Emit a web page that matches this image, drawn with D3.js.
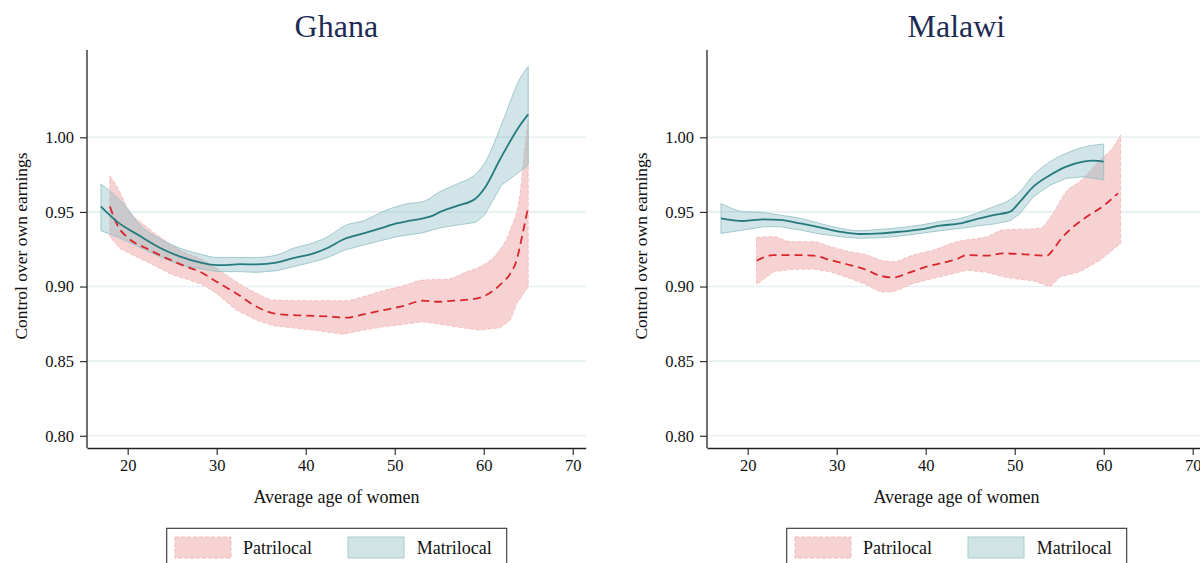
<!DOCTYPE html>
<html>
<head>
<meta charset="utf-8">
<script src="https://cdn.jsdelivr.net/npm/d3@7"></script>
<style>
  html, body { margin: 0; padding: 0; background: #fff; }
  svg { display: block; }
  text { font-family: "Liberation Serif", "DejaVu Serif", serif; }
</style>
</head>
<body>
<svg id="chart" width="1200" height="563"></svg>
<script>
// ---------------- DATA ----------------
const panels = ["Ghana", "Malawi"];
const yTicks = [0.80, 0.85, 0.90, 0.95, 1.00];
const xTicks = [20, 30, 40, 50, 60, 70];
const legendLabels = ["Patrilocal", "Matrilocal"];

// Ghana – Matrilocal: [age, estimate]
const ghanaMatriLine = [[17,0.9535],[18.8,0.9435],[21.2,0.9345],[23.6,0.926],[25.9,0.920],[28.1,0.9162],[30,0.9144],[31.1,0.9144],[32.6,0.915],[34.5,0.9148],[36.7,0.916],[38.6,0.919],[40.9,0.9222],[42.5,0.926],[44.4,0.932],[46.5,0.9356],[48.4,0.939],[50.2,0.9423],[51.7,0.9441],[53.2,0.9457],[54.2,0.9473],[55.1,0.950],[57,0.954],[59.1,0.959],[60.1,0.9658],[61.8,0.9848],[64.1,1.0083],[65,1.0154]];
const ghanaMatriUpper = [[17,0.9687],[19.8,0.9535],[21.2,0.9423],[23.6,0.932],[25.9,0.9256],[28.1,0.9218],[30,0.9195],[32.6,0.9195],[34.5,0.9195],[36.7,0.921],[38.6,0.9256],[40.9,0.9294],[42.5,0.9334],[44.4,0.9408],[46.5,0.9441],[49.1,0.9513],[51.3,0.9553],[53.2,0.9569],[55.1,0.9636],[57,0.9687],[59.1,0.9754],[60.1,0.9826],[62.2,1.0116],[64.1,1.0396],[65,1.0474]];
const ghanaMatriLower = [[17,0.9374],[18.8,0.9334],[21.2,0.9267],[23.6,0.92],[25.9,0.9144],[30,0.91],[32.6,0.91],[34.5,0.9095],[36.7,0.9106],[38.6,0.9133],[40.9,0.9166],[42.5,0.9195],[44.4,0.9245],[46.5,0.9278],[48.4,0.9307],[50.2,0.9334],[53.2,0.9361],[55.1,0.9394],[57,0.9412],[59.1,0.943],[60.1,0.9479],[62,0.968],[63.3,0.9736],[65,0.9814]];

// Ghana – Patrilocal
const ghanaPatriLine = [[18,0.9535],[18.95,0.940],[20.1,0.9323],[22.1,0.9256],[24.4,0.9189],[26.6,0.9133],[28.1,0.91],[30,0.9032],[32.2,0.8954],[34.5,0.8865],[36.4,0.882],[38.2,0.8809],[40.9,0.8804],[43.1,0.8797],[44.4,0.8791],[46.5,0.8813],[48.7,0.8842],[50.9,0.8869],[53.2,0.8905],[54.7,0.8898],[56.6,0.8905],[58.8,0.8916],[60.3,0.8943],[61.8,0.901],[63,0.9088],[63.7,0.9177],[64.3,0.9334],[65,0.9535]];
const ghanaPatriUpper = [[18,0.9741],[18.8,0.9669],[20.1,0.9513],[22.1,0.9401],[24.4,0.93],[26.6,0.9222],[28.1,0.9189],[30,0.9122],[32.2,0.9032],[34.5,0.8954],[36.4,0.8909],[40.9,0.8905],[44.4,0.8905],[46.5,0.8932],[48.7,0.8972],[50.9,0.9003],[53.2,0.9043],[55.8,0.9048],[58.1,0.9099],[59.6,0.9133],[61.5,0.9222],[63,0.9379],[64.1,0.9624],[64.6,0.9915],[65,1.0116]];
const ghanaPatriLower = [[18,0.9334],[19.1,0.9256],[20.6,0.9211],[22.9,0.9144],[25.1,0.9077],[27,0.9043],[28.5,0.901],[30,0.8954],[32.2,0.8842],[34.5,0.8775],[36.4,0.8737],[40.9,0.8708],[44.2,0.8681],[46.5,0.8708],[48.7,0.873],[53.2,0.8764],[55.8,0.8742],[58.1,0.8719],[59.6,0.8708],[61.8,0.8724],[63,0.8775],[63.7,0.8887],[64.5,0.8954],[65,0.8999]];

// Malawi – Matrilocal
const malawiMatriLine = [[17,0.9457],[19.5,0.9439],[21.8,0.945],[23.6,0.9446],[25.9,0.9423],[28.1,0.9397],[30.4,0.9367],[32.6,0.9352],[34.9,0.9356],[37.1,0.9367],[39.4,0.9383],[41.6,0.9408],[43.9,0.9423],[45.7,0.9452],[47.6,0.9479],[49.5,0.9502],[50.6,0.9569],[52.1,0.9669],[54,0.9747],[55.8,0.9803],[57.7,0.9837],[58.8,0.9844],[60,0.9837]];
const malawiMatriUpper = [[17,0.9557],[19.5,0.9502],[21.8,0.9495],[23.6,0.9479],[25.9,0.9457],[28.1,0.9423],[30.4,0.939],[32.6,0.9374],[34.9,0.9383],[37.1,0.9394],[39.4,0.9412],[41.6,0.9435],[43.9,0.9457],[45.7,0.949],[47.6,0.9535],[49.1,0.9569],[50.6,0.9636],[52.1,0.9747],[54,0.9837],[55.8,0.9893],[57.7,0.9933],[60,0.9955]];
const malawiMatriLower = [[17,0.9356],[19.5,0.9379],[21.8,0.9401],[23.6,0.9401],[25.9,0.9379],[28.1,0.9352],[30.4,0.9334],[32.6,0.9323],[34.9,0.9327],[37.1,0.9338],[39.4,0.9356],[41.6,0.9374],[43.9,0.939],[45.7,0.9405],[47.6,0.9419],[49.5,0.9441],[50.6,0.949],[52.1,0.9602],[54,0.968],[55.8,0.9725],[57.7,0.9736],[60,0.9714]];

// Malawi – Patrilocal
const malawiPatriLine = [[21,0.9173],[22.9,0.9211],[24.8,0.9211],[27.4,0.9207],[29.3,0.9177],[31.5,0.9144],[33.4,0.911],[34.9,0.9072],[36.4,0.9061],[37.9,0.9088],[40.1,0.9133],[42,0.916],[43.5,0.9184],[44.6,0.9211],[46.9,0.9207],[48.7,0.9222],[50.6,0.9218],[53.6,0.9207],[54.3,0.9245],[55.1,0.9312],[56.6,0.9401],[58.1,0.9468],[60,0.9542],[61.6,0.9624]];
const malawiPatriUpper = [[21,0.9329],[22.9,0.9334],[24.8,0.93],[27.4,0.93],[29.3,0.9267],[31.5,0.9233],[33.4,0.9211],[34.9,0.9177],[36.4,0.9166],[38.6,0.9211],[40.9,0.9245],[43.5,0.93],[44.6,0.9312],[46.9,0.9334],[48.7,0.9379],[50.6,0.9383],[52.8,0.939],[54.3,0.949],[55.8,0.9636],[57.3,0.9703],[59.6,0.9848],[61.1,0.9937],[61.9,1.0016]];
const malawiPatriLower = [[21,0.9014],[22.9,0.9099],[24.8,0.9115],[27.4,0.9117],[29.3,0.9099],[31.5,0.9055],[33.4,0.901],[34.9,0.8965],[36.4,0.8965],[38.6,0.9021],[40.9,0.9055],[43.5,0.9093],[44.6,0.911],[46.9,0.9095],[48.7,0.9066],[50.6,0.9048],[52.1,0.9039],[54,0.8999],[55.1,0.9066],[57.3,0.9099],[59.6,0.9177],[61.9,0.9289]];

const panelData = [
  { patri: { line: ghanaPatriLine, upper: ghanaPatriUpper, lower: ghanaPatriLower },
    matri: { line: ghanaMatriLine, upper: ghanaMatriUpper, lower: ghanaMatriLower } },
  { patri: { line: malawiPatriLine, upper: malawiPatriUpper, lower: malawiPatriLower },
    matri: { line: malawiMatriLine, upper: malawiMatriUpper, lower: malawiMatriLower } }
];

// ---------------- STYLE / LAYOUT ----------------
const W = 1200, H = 563;
const panelOffset = 620;
const plotLeft = 87, plotRight = 585.7, plotTop = 50, plotBottom = 448;
const xDomain = [15.43, 71.46];
const yDomain = [0.7918, 1.0585];
const colors = {
  patriLine: "#d8262c", patriFill: "#f7d2d2", patriEdge: "#f3b9ba",
  matriLine: "#257a7e", matriFill: "rgba(140,188,195,0.40)", matriEdge: "#99c4c8",
  grid: "#e5eef1", axis: "#222", title: "#1e2c55", text: "#111"
};

const svg = d3.select("#chart");

function bandPolygon(upper, lower, x, y) {
  const pts = upper.map(d => [x(d[0]), y(d[1])])
    .concat(lower.slice().reverse().map(d => [x(d[0]), y(d[1])]));
  return pts;
}

panels.forEach((name, i) => {
  const off = i * panelOffset;
  const g = svg.append("g");
  const x = d3.scaleLinear().domain(xDomain).range([plotLeft + off, plotRight + off]);
  const y = d3.scaleLinear().domain(yDomain).range([plotBottom, plotTop]);

  // grid
  g.append("g").selectAll("line").data(yTicks).join("line")
    .attr("x1", plotLeft + off + 1).attr("x2", plotRight + off)
    .attr("y1", d => y(d)).attr("y2", d => y(d))
    .attr("stroke", colors.grid).attr("stroke-width", 1.6);

  const d = panelData[i];
  const lineGen = d3.line().x(p => x(p[0])).y(p => y(p[1])).curve(d3.curveMonotoneX);
  const areaGen = d3.area()
    .x(p => x(p.x)).y0(p => y(p.lo)).y1(p => y(p.hi));

  function drawBand(band, fill, edge, dashed) {
    // upper & lower edges via curved lines, close into polygon
    const up = d3.line().x(p => x(p[0])).y(p => y(p[1])).curve(d3.curveMonotoneX)(band.upper);
    const loRev = band.lower.slice().reverse();
    const lo = d3.line().x(p => x(p[0])).y(p => y(p[1])).curve(d3.curveLinear)(loRev);
    const path = up + "L" + lo.slice(1) + "Z";
    g.append("path").attr("d", path)
      .attr("fill", fill)
      .attr("stroke", edge).attr("stroke-width", 0.9)
      .attr("stroke-dasharray", dashed ? "4,2" : null);
  }

  drawBand(d.patri, colors.patriFill, colors.patriEdge, true);
  drawBand(d.matri, colors.matriFill, colors.matriEdge, false);

  g.append("path").datum(d.patri.line).attr("d", lineGen)
    .attr("fill", "none").attr("stroke", colors.patriLine)
    .attr("stroke-width", 1.8).attr("stroke-dasharray", "8,5");
  g.append("path").datum(d.matri.line).attr("d", lineGen)
    .attr("fill", "none").attr("stroke", colors.matriLine)
    .attr("stroke-width", 1.8);

  // axes
  const yAxis = d3.axisLeft(y).tickValues(yTicks).tickFormat(d3.format(".2f"))
    .tickSize(7).tickSizeOuter(0).tickPadding(6);
  const ya = g.append("g").attr("transform", `translate(${plotLeft + off},0)`).call(yAxis);
  ya.select(".domain").attr("d", `M0,${plotTop}V${plotBottom}`);

  const xAxis = d3.axisBottom(x).tickValues(xTicks).tickFormat(d3.format("d"))
    .tickSize(7).tickSizeOuter(0).tickPadding(4);
  const xa = g.append("g").attr("transform", `translate(0,${plotBottom})`).call(xAxis);

  [ya, xa].forEach(a => {
    a.select(".domain").attr("stroke", colors.axis).attr("stroke-width", 1.3);
    a.selectAll(".tick line").attr("stroke", colors.axis).attr("stroke-width", 1.1);
    a.selectAll(".tick text").attr("fill", colors.text)
      .style("font-family", '"Liberation Serif", serif').style("font-size", "16.5px");
  });

  // titles
  g.append("text").attr("x", (plotLeft + plotRight) / 2 + off).attr("y", 37)
    .attr("text-anchor", "middle").attr("fill", colors.title)
    .style("font-size", "32px").text(name);

  g.append("text").attr("transform", `translate(${27 + off},${246}) rotate(-90)`)
    .attr("text-anchor", "middle").attr("fill", colors.text)
    .style("font-size", "17.5px").text("Control over own earnings");

  g.append("text").attr("x", 336.5 + off).attr("y", 503)
    .attr("text-anchor", "middle").attr("fill", colors.text)
    .style("font-size", "18px").text("Average age of women");

  // legend
  const lg = g.append("g");
  lg.append("rect").attr("x", 166.7 + off).attr("y", 528.3).attr("width", 340).attr("height", 60)
    .attr("fill", "#fff").attr("stroke", "#333").attr("stroke-width", 1.1);
  const items = [
    { label: legendLabels[0], fill: colors.patriFill, edge: colors.patriEdge, dash: "4,2", px: 175, tx: 243 },
    { label: legendLabels[1], fill: "#d0e4e6", edge: "#a8cdd0", dash: null, px: 348, tx: 416.7 }
  ];
  items.forEach(it => {
    lg.append("rect").attr("x", it.px + off).attr("y", 537).attr("width", 56).attr("height", 21)
      .attr("fill", it.fill).attr("stroke", it.edge).attr("stroke-width", 1)
      .attr("stroke-dasharray", it.dash);
    lg.append("text").attr("x", it.tx + off).attr("y", 554).attr("fill", colors.text)
      .style("font-size", "18px").text(it.label);
  });
});
</script>
</body>
</html>
